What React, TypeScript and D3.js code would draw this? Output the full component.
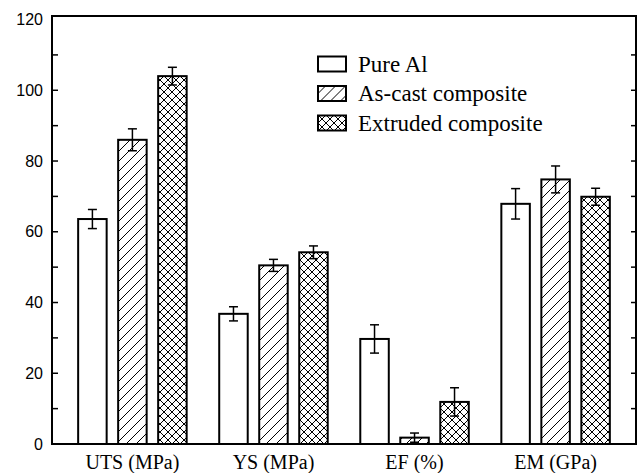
import React, { useEffect, useRef } from 'react';
import * as d3 from 'd3';

// values
const categories = ['UTS (MPa)', 'YS (MPa)', 'EF (%)', 'EM (GPa)'];
const seriesNames = ['Pure Al', 'As-cast composite', 'Extruded composite'];
const pureAl = [63.6, 36.8, 29.7, 67.9];
const pureAlErr = [2.7, 2.0, 4.0, 4.3];
const asCast = [86.0, 50.5, 1.8, 74.8];
const asCastErr = [3.1, 1.7, 1.3, 3.8];
const extruded = [104.0, 54.2, 11.9, 69.9];
const extrudedErr = [2.5, 1.8, 4.0, 2.4];
const yLabelTicks = [0, 20, 40, 60, 80, 100, 120];
const yMinorTicks = [10, 20, 30, 40, 50, 60, 70, 80, 90, 100, 110];

const W = 640;
const H = 473;
const SERIF = '"Liberation Serif", "Times New Roman", serif';
const SANS = '"Liberation Sans", Arial, sans-serif';

const App = () => {
  const svgRef = useRef<SVGSVGElement>(null);

  useEffect(() => {
    const svg = d3.select(svgRef.current);
    svg.selectAll('*').remove();

    const margin = { top: 16, right: 4, bottom: 29, left: 52 };
    const x0 = margin.left;
    const x1 = W - margin.right;
    const yBottom = H - margin.bottom;

    const values = [pureAl, asCast, extruded];
    const errors = [pureAlErr, asCastErr, extrudedErr];

    // patterns: single hatch and cross hatch
    const defs = svg.append('defs');
    const hatch = defs.append('pattern')
      .attr('id', 'hatch')
      .attr('patternUnits', 'userSpaceOnUse')
      .attr('width', 10)
      .attr('height', 10);
    hatch.append('rect').attr('width', 10).attr('height', 10).attr('fill', '#fff');
    hatch.append('path')
      .attr('d', 'M-2,2 L2,-2 M0,10 L10,0 M8,12 L12,8')
      .attr('stroke', '#000')
      .attr('stroke-width', 1);

    const cross = defs.append('pattern')
      .attr('id', 'cross')
      .attr('patternUnits', 'userSpaceOnUse')
      .attr('width', 8)
      .attr('height', 8);
    cross.append('rect').attr('width', 8).attr('height', 8).attr('fill', '#fff');
    cross.append('path')
      .attr('d', 'M-2,2 L2,-2 M0,8 L8,0 M6,10 L10,6 M-2,6 L2,10 M0,0 L8,8 M6,-2 L10,2')
      .attr('stroke', '#000')
      .attr('stroke-width', 1);

    const fills = ['#fff', 'url(#hatch)', 'url(#cross)'];

    // scales
    const x = d3.scaleBand()
      .domain(categories)
      .range([x0, x1])
      .paddingInner(0)
      .paddingOuter(0.07);

    const xSub = d3.scaleBand()
      .domain(seriesNames)
      .range([-54.25, 54.25])
      .paddingInner(0.2875)
      .paddingOuter(0);

    const y = d3.scaleLinear()
      .domain([0, 121])
      .range([yBottom, margin.top]);

    const g = svg.append('g');

    // bars
    seriesNames.forEach((name, i) => {
      g.selectAll(`.bar-${i}`)
        .data(categories)
        .enter()
        .append('rect')
        .attr('class', `bar-${i}`)
        .attr('x', d => (x(d) as number) + x.bandwidth() / 2 + (xSub(name) as number))
        .attr('width', xSub.bandwidth())
        .attr('y', (d, j) => y(values[i][j]))
        .attr('height', (d, j) => yBottom - y(values[i][j]))
        .attr('fill', fills[i])
        .attr('stroke', '#000')
        .attr('stroke-width', 2);

      // error bars
      categories.forEach((c, j) => {
        const cx = (x(c) as number) + x.bandwidth() / 2 + (xSub(name) as number) + xSub.bandwidth() / 2;
        const v = values[i][j];
        const e = errors[i][j];
        const top = y(v + e);
        const bot = y(Math.max(0, v - e));
        const eg = g.append('g')
          .attr('stroke', '#000')
          .attr('stroke-width', 1.5);
        eg.append('line').attr('x1', cx).attr('x2', cx).attr('y1', top).attr('y2', bot);
        eg.append('line').attr('x1', cx - 4.5).attr('x2', cx + 4.5).attr('y1', top).attr('y2', top);
        eg.append('line').attr('x1', cx - 4.5).attr('x2', cx + 4.5).attr('y1', bot).attr('y2', bot);
      });
    });

    // frame
    svg.append('rect')
      .attr('x', x0)
      .attr('y', margin.top)
      .attr('width', x1 - x0)
      .attr('height', yBottom - margin.top)
      .attr('fill', 'none')
      .attr('stroke', '#000')
      .attr('stroke-width', 2);

    // inward ticks on both sides
    svg.selectAll('.tick-left')
      .data(yMinorTicks)
      .enter()
      .append('line')
      .attr('x1', x0)
      .attr('x2', x0 + 6)
      .attr('y1', d => y(d))
      .attr('y2', d => y(d))
      .attr('stroke', '#000')
      .attr('stroke-width', 1.5);

    svg.selectAll('.tick-right')
      .data(yMinorTicks)
      .enter()
      .append('line')
      .attr('x1', x1)
      .attr('x2', x1 - 5)
      .attr('y1', d => y(d))
      .attr('y2', d => y(d))
      .attr('stroke', '#000')
      .attr('stroke-width', 1.5);

    // y labels
    svg.selectAll('.ylab')
      .data(yLabelTicks)
      .enter()
      .append('text')
      .attr('x', x0 - 9)
      .attr('y', d => y(d))
      .attr('dy', '0.35em')
      .attr('text-anchor', 'end')
      .style('font-family', SANS)
      .style('font-size', '16px')
      .text(d => d);

    // category labels
    svg.selectAll('.xlab')
      .data(categories)
      .enter()
      .append('text')
      .attr('x', d => (x(d) as number) + x.bandwidth() / 2)
      .attr('y', yBottom + 25)
      .attr('text-anchor', 'middle')
      .style('font-family', SERIF)
      .style('font-size', '20px')
      .text(d => d);

    // legend
    const legend = svg.append('g').attr('transform', 'translate(318,64)');
    seriesNames.forEach((name, i) => {
      const row = legend.append('g').attr('transform', `translate(0,${i * 29.5})`);
      row.append('rect')
        .attr('x', 0)
        .attr('y', -7.5)
        .attr('width', 28)
        .attr('height', 15)
        .attr('fill', fills[i])
        .attr('stroke', '#000')
        .attr('stroke-width', 2);
      row.append('text')
        .attr('x', 40)
        .attr('y', 0)
        .attr('dy', '0.33em')
        .style('font-family', SERIF)
        .style('font-size', '23px')
        .text(name);
    });
  }, []);

  return (
    <div style={{ position: 'absolute', left: 0, top: 0, background: '#fff' }}>
      <svg ref={svgRef} width={W} height={H} style={{ display: 'block' }}></svg>
    </div>
  );
};

export default App;
